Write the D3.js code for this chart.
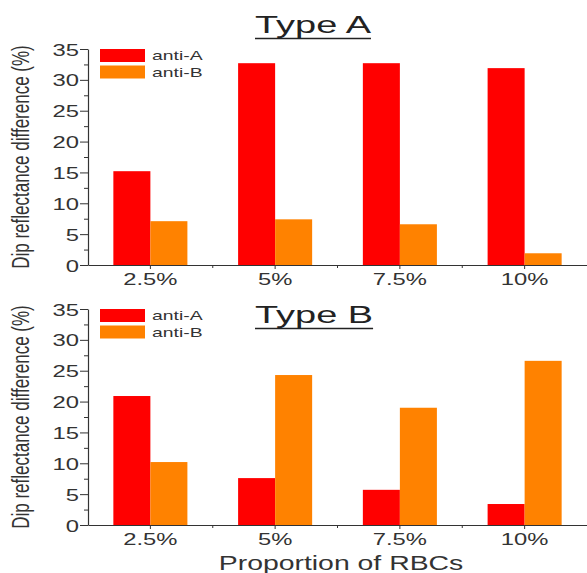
<!DOCTYPE html>
<html>
<head>
<meta charset="utf-8">
<script src="https://cdn.jsdelivr.net/npm/d3@7"></script>
<style>
  body { margin: 0; background: #fff; }
  svg { display: block; font-family: "Liberation Sans", Arial, sans-serif; }
</style>
</head>
<body>
<div id="chart"></div>
<script>
// data
const categories = ['2.5%', '5%', '7.5%', '10%'];
const series = ['anti-A', 'anti-B'];
const typeA_antiA = [15.2, 32.7, 32.7, 31.9];
const typeA_antiB = [7.1, 7.4, 6.6, 1.9];
const typeB_antiA = [20.9, 7.6, 5.7, 3.4];
const typeB_antiB = [10.2, 24.3, 19.0, 26.6];
const yTicks = [0, 5, 10, 15, 20, 25, 30, 35];
const yMinorTicks = [2.5, 7.5, 12.5, 17.5, 22.5, 27.5, 32.5];

const width = 587;
const height = 573;
const colors = { 'anti-A': '#ff0000', 'anti-B': '#ff8200' };
const ink = '#333';

const panels = [
  { title: 'Type A', values: [typeA_antiA, typeA_antiB], y0: 265, y1: 49, titleY: 33 },
  { title: 'Type B', values: [typeB_antiA, typeB_antiB], y0: 525, y1: 309, titleY: 323 }
];

let svg = d3.select('#chart').append('svg')
  .attr('width', width)
  .attr('height', height);

let x = d3.scaleBand()
  .domain(categories)
  .range([88, 587])
  .padding(0);

let xSub = d3.scaleBand()
  .domain(series)
  .range([0, x.bandwidth()])
  .paddingInner(0)
  .paddingOuter(0.685);

// stretched text helper (the source image is wide)
let stretchText = (g, str, px, py, size, sx, anchor) => {
  return g.append('text')
    .attr('transform', 'translate(' + px + ',' + py + ') scale(' + sx + ',1)')
    .attr('text-anchor', anchor || 'start')
    .style('font-size', size + 'px')
    .style('fill', ink)
    .text(str);
};

panels.forEach((p) => {
  let y = d3.scaleLinear().domain([0, 35]).range([p.y0, p.y1]);
  let g = svg.append('g');

  // bars
  series.forEach((s, si) => {
    g.selectAll('.bar-' + si)
      .data(p.values[si])
      .join('rect')
      .attr('x', (d, i) => x(categories[i]) + xSub(s))
      .attr('y', d => y(d))
      .attr('width', xSub.bandwidth())
      .attr('height', d => y(0) - y(d))
      .style('fill', colors[s]);
  });

  // y axis
  let yAxis = g.append('g')
    .attr('transform', 'translate(88,0)')
    .call(d3.axisLeft(y).tickValues(yTicks).tickSize(8).tickSizeOuter(0));
  yAxis.select('.domain').attr('stroke', ink).attr('stroke-width', 1.2);
  yAxis.selectAll('line').attr('stroke', ink);
  yAxis.selectAll('text')
    .attr('x', null).attr('dy', '0.36em')
    .attr('transform', 'translate(-9,0) scale(1.4,1)')
    .style('font-size', '17px')
    .style('fill', ink);

  g.append('g')
    .attr('transform', 'translate(88,0)')
    .call(d3.axisLeft(y).tickValues(yMinorTicks).tickSize(4).tickFormat(''))
    .call(a => a.select('.domain').remove())
    .selectAll('line').attr('stroke', ink);

  // x axis
  let xAxis = g.append('g')
    .attr('transform', 'translate(0,' + p.y0 + ')')
    .call(d3.axisBottom(x).tickSize(4).tickSizeOuter(0));
  xAxis.select('.domain').attr('stroke', ink).attr('stroke-width', 1.2);
  xAxis.selectAll('line').attr('stroke', ink);
  xAxis.selectAll('text')
    .attr('y', null).attr('dy', null)
    .attr('transform', 'translate(0,20) scale(1.4,1)')
    .style('font-size', '17px')
    .style('fill', ink);

  // minor ticks between categories
  g.selectAll('.xminor')
    .data(categories.slice(1))
    .join('line')
    .attr('x1', d => x(d)).attr('x2', d => x(d))
    .attr('y1', p.y0).attr('y2', p.y0 + 3)
    .attr('stroke', ink);

  // y label
  g.append('text')
    .attr('transform', 'translate(29,' + (p.y0 + p.y1) / 2 + ') scale(1.4,1) rotate(-90)')
    .attr('text-anchor', 'middle')
    .style('font-size', '17px')
    .style('fill', ink)
    .text('Dip reflectance difference (%)');

  // title with underline
  let t = stretchText(g, p.title, 255, p.titleY, 23, 1.65);
  t.style('fill', '#222');
  let tw = t.node().getComputedTextLength() * 1.65;
  g.append('line')
    .attr('x1', 255).attr('x2', 255 + tw)
    .attr('y1', p.titleY + 5.5).attr('y2', p.titleY + 5.5)
    .attr('stroke', '#222')
    .attr('stroke-width', 1.6);

  // legend
  series.forEach((s, si) => {
    let ly = p.y1 + si * 16.5;
    g.append('rect')
      .attr('x', 100).attr('y', ly)
      .attr('width', 45).attr('height', 13)
      .style('fill', colors[s]);
    stretchText(g, s, 152, ly + 11, 12.5, 1.55);
  });
});

// x axis title
stretchText(svg, 'Proportion of RBCs', 341, 570, 20, 1.42, 'middle');
</script>
</body>
</html>
